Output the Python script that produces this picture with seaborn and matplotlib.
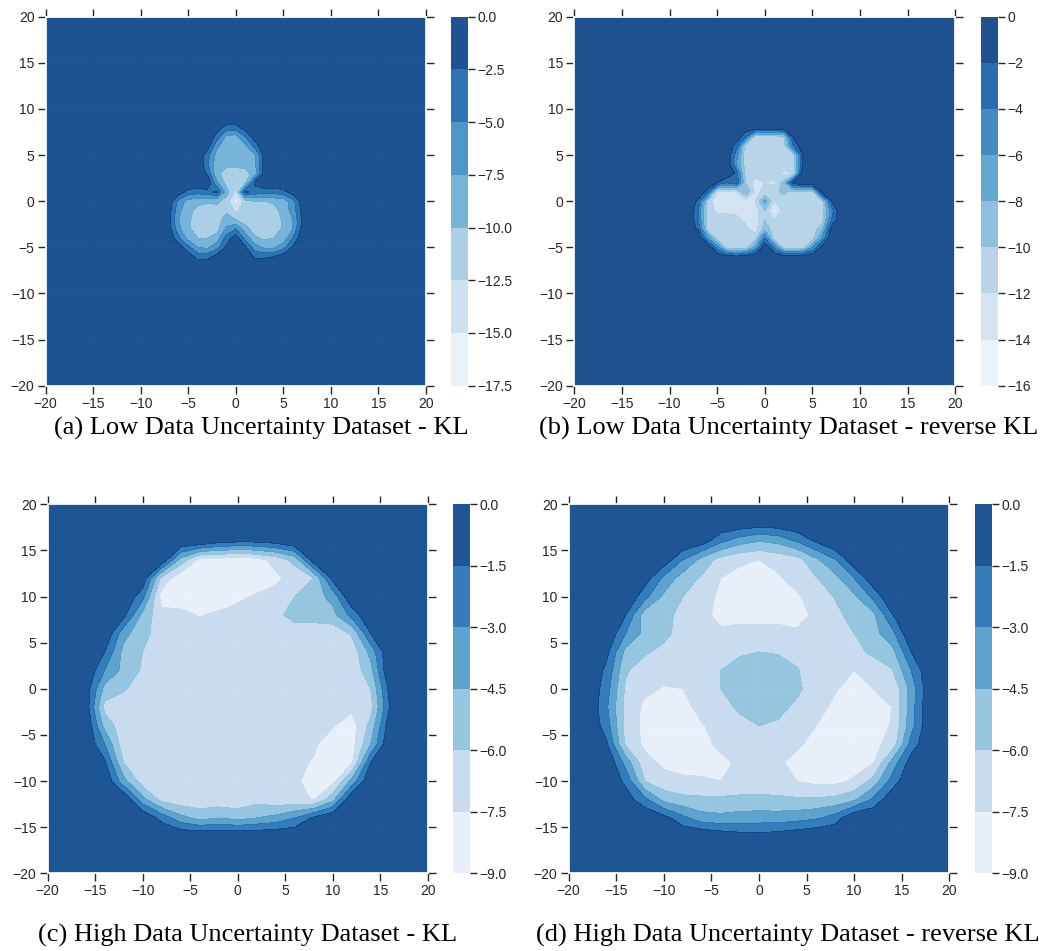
import numpy as np
import matplotlib
matplotlib.use("Agg")
import matplotlib.pyplot as plt
import seaborn as sns

# ---------------- data ----------------
LEVELS_A = [-17.5, -15.0, -12.5, -10.0, -7.5, -5.0, -2.5, 0.0]
LEVELS_B = [-16, -14, -12, -10, -8, -6, -4, -2, 0]
LEVELS_C = [-9.0, -7.5, -6.0, -4.5, -3.0, -1.5, 0.0]
LEVELS_D = [-9.0, -7.5, -6.0, -4.5, -3.0, -1.5, 0.0]

TICKS = [-20, -15, -10, -5, 0, 5, 10, 15, 20]
BACKGROUND = 0.0

CAPTIONS = ["(a) Low Data Uncertainty Dataset - KL",
            "(b) Low Data Uncertainty Dataset - reverse KL",
            "(c) High Data Uncertainty Dataset - KL",
            "(d) High Data Uncertainty Dataset - reverse KL"]

# (a) KL values on a 1-unit grid, x = -8..8, rows y = 10 .. -8
A_X = list(range(-8, 9))
A_Y = list(range(10, -9, -1))
A_Z = [
    [0]*17,
    [0]*17,
    [0, 0, 0, 0, 0, 0, -1, -3.5, -3.5, -1, 0, 0, 0, 0, 0, 0, 0],
    [0, 0, 0, 0, 0, 0, -3.5, -8, -8.5, -5, -1, 0, 0, 0, 0, 0, 0],
    [0, 0, 0, 0, 0, -1, -7, -9, -9, -8, -4, 0, 0, 0, 0, 0, 0],
    [0, 0, 0, 0, 0, -4, -8.5, -9, -9, -9, -8, -1.5, 0, 0, 0, 0, 0],
    [0, 0, 0, 0, 0, -4.5, -9, -9.5, -9.5, -9, -8, -1.5, 0, 0, 0, 0, 0],
    [0, 0, 0, 0, 0, -3, -9.5, -11, -11, -11, -9, -1, 0, 0, 0, 0, 0],
    [0, 0, 0, 0, 0, 0, -7, -11, -11.5, -10.5, -2, 0, 0, 0, 0, 0, 0],
    [0, 0, -1, -3.5, -4, -3.5, -2, -9, -13, -2, -3.5, -4, -4, -3.5, -1, 0, 0],
    [0, -1, -6, -8.5, -9, -9.5, -9.5, -11, -16, -11, -10, -10, -9.5, -9, -6, -1, 0],
    [0, -1.5, -7, -9, -11, -11.5, -11, -10.5, -13, -11.5, -11.5, -11.5, -11, -9, -6.5, -1.5, 0],
    [0, -2, -7.5, -9.5, -11.5, -11.5, -11, -9, -10, -11.5, -12, -12, -11.5, -9.5, -7.5, -2, 0],
    [0, -1.5, -7, -9.5, -11.5, -11.5, -11, -7, -5, -9, -11.5, -12, -11.5, -9.5, -7.5, -1.5, 0],
    [0, -0.5, -4.5, -8.5, -10, -10, -9, -4, -1, -6, -9.5, -10.5, -10, -9, -5, -0.5, 0],
    [0, 0, -1, -4.5, -7.5, -8, -6, -2, 0, -2, -6.5, -8, -8, -6, -2, 0, 0],
    [0, 0, 0, -1, -3.5, -3.5, -1.5, 0, 0, -0.5, -3, -3, -2.5, -1, 0, 0, 0],
    [0, 0, 0, 0, -0.5, -0.5, 0, 0, 0, 0, 0, 0, 0, 0, 0, 0, 0],
    [0]*17,
]

# (b) reverse KL values on a 1-unit grid, x = -8..8, rows y = 9 .. -7
B_X = list(range(-8, 9))
B_Y = list(range(9, -8, -1))
B_Z = [
    [0]*17,
    [0]*17,
    [0, 0, 0, 0, 0, 0, -4, -11, -11, -11, -10, -1.5, 0, 0, 0, 0, 0],
    [0, 0, 0, 0, 0, -3, -11, -11, -11, -11, -11, -4, 0, 0, 0, 0, 0],
    [0, 0, 0, 0, 0, -5, -11.5, -11, -11, -11, -11, -11, -2, 0, 0, 0, 0],
    [0, 0, 0, 0, 0, -6, -11, -11, -11, -11, -11, -11, -1.5, 0, 0, 0, 0],
    [0, 0, 0, 0, 0, -2.5, -11, -11, -11, -11, -12.5, -12, 0, 0, 0, 0, 0],
    [0, 0, 0, -2, -4, -2.5, -10, -13, -12, -12.5, -9, -1, 0, 0, 0, 0, 0],
    [0, 0, -3, -12.5, -12.5, -12.5, -8, -12.5, -11.5, -10.5, -9.5, -11, -11, -11, -1.5, 0, 0],
    [0, -2.5, -11, -13, -13, -13, -13, -12, -7, -12, -11, -11, -11, -11, -11, -2, 0],
    [0, -4, -11, -12.5, -12.5, -12.5, -12.5, -13, -10, -15, -11, -11, -11, -11, -11, -5, 0],
    [0, -4, -11, -11, -11, -11.5, -12.5, -13, -10, -12, -11, -11, -11, -11, -11, -4, 0],
    [0, -2.5, -11, -11, -11, -11, -11.5, -13, -9, -11, -11, -11, -11, -11, -9, -1, 0],
    [0, 0, -6, -11, -11, -11, -11, -11, -4, -11, -11, -11, -11, -11, -6, 0, 0],
    [0, 0, 0, -5, -11, -11, -11, -7, 0, -5, -11, -11, -11, -6, -1, 0, 0],
    [0, 0, 0, 0, -1, -1.5, -1, 0, 0, 0, -1, -1, -0.5, 0, 0, 0, 0],
    [0]*17,
]

# (c) KL values on a 2-unit grid, x = -20..20, rows y = 20 .. -20
C_X = list(range(-20, 21, 2))
C_Y = list(range(20, -21, -2))
C_Z = [
    [0]*21,
    [0]*21,
    [0, 0, 0, 0, 0, 0, 0, 0, 0, -1, -1.2, -1.2, -0.8, 0, 0, 0, 0, 0, 0, 0, 0],
    [0, 0, 0, 0, 0, 0, 0, -5, -8, -8, -8.5, -8, -7, -5.5, -0.5, 0, 0, 0, 0, 0, 0],
    [0, 0, 0, 0, 0, -0.3, -6.5, -8.5, -8.5, -8.5, -8.5, -8.5, -7.8, -7, -6, -1, 0, 0, 0, 0, 0],
    [0, 0, 0, 0, 0, -2.5, -8.2, -8.5, -8.5, -8.5, -7.8, -7.3, -7, -6, -5.2, -4, 0, 0, 0, 0, 0],
    [0, 0, 0, 0, -1, -5, -7, -7, -7.6, -7.2, -7, -7, -6.5, -5.3, -5.3, -5, -2.5, 0, 0, 0, 0],
    [0, 0, 0, 0, -4, -5.5, -6.8, -7, -7, -7, -7, -7, -7, -7, -7, -7, -5.8, -1.5, 0, 0, 0],
    [0, 0, 0, -1.5, -5, -6, -7, -7, -7, -7, -7, -7, -7, -7, -7, -7, -7, -4, 0, 0, 0],
    [0, 0, 0, -3, -5, -6.2, -7, -7, -7, -7, -7, -7, -7, -7, -7, -7, -7, -5, 0, 0, 0],
    [0, 0, -0.5, -5, -5.8, -7, -7, -7, -7, -7, -7, -7, -7, -7, -7, -7, -7, -6, -1, 0, 0],
    [0, 0, -0.5, -6.5, -7, -7, -7, -7, -7, -7, -7, -7, -7, -7, -7, -7, -7.2, -6.5, -1.5, 0, 0],
    [0, 0, 0, -5, -7, -7, -7, -7, -7, -7, -7, -7, -7, -7, -7, -7.4, -8.2, -5.5, -0.5, 0, 0],
    [0, 0, 0, -3, -7, -7, -7, -7, -7, -7, -7, -7, -7, -7, -7.3, -8.2, -8.2, -4.5, 0, 0, 0],
    [0, 0, 0, -1.2, -6, -7, -7, -7, -7, -7, -7, -7, -7, -7.2, -7.6, -8.3, -7.8, -1.5, 0, 0, 0],
    [0, 0, 0, 0, -4, -6.8, -7, -7, -7, -7, -7, -7, -7, -7.2, -8.2, -8, -4, 0, 0, 0, 0],
    [0, 0, 0, 0, 0, -4, -6.5, -7, -7, -7, -7, -6.5, -7, -7, -7.6, -5, 0, 0, 0, 0, 0],
    [0, 0, 0, 0, 0, 0, -2, -4, -5, -4.5, -5, -4.5, -4, -3, -1.2, 0, 0, 0, 0, 0, 0],
    [0]*21,
    [0]*21,
    [0]*21,
]

# (d) reverse KL values on a 2-unit grid, x = -20..20, rows y = 20 .. -20
D_X = list(range(-20, 21, 2))
D_Y = list(range(20, -21, -2))
D_Z = [
    [0]*21,
    [0, 0, 0, 0, 0, 0, 0, 0, 0, -0.2, -0.55, -0.4, 0, 0, 0, 0, 0, 0, 0, 0, 0],
    [0, 0, 0, 0, 0, 0, 0, -0.7, -2.7, -3.9, -4.5, -4.1, -2.9, -1.3, 0, 0, 0, 0, 0, 0, 0],
    [0, 0, 0, 0, 0, -0.4, -3, -5, -6.6, -7.2, -7.5, -7, -6.6, -4.8, -3.1, -0.4, 0, 0, 0, 0, 0],
    [0, 0, 0, 0, -0.65, -3.4, -5.2, -6.2, -7.5, -8, -8.2, -7.7, -6.9, -6.1, -5, -3, -0.4, 0, 0, 0, 0],
    [0, 0, 0, 0, -2.5, -4.8, -6, -6.9, -7.8, -8.3, -8.3, -8.3, -7.7, -6.8, -5.9, -4.8, -2.6, 0, 0, 0, 0],
    [0, 0, 0, -1.5, -5.3, -5.5, -6.5, -7, -8, -8, -8, -8, -8, -7.2, -6.5, -5.3, -4.9, -1.6, 0, 0, 0],
    [0, 0, 0, -3, -5, -5.6, -6.6, -6.9, -7.2, -7, -7, -7, -7.3, -7.4, -6.8, -6, -5, -3.5, 0, 0, 0],
    [0, 0, -1.1, -5, -5.8, -6.4, -6.8, -6.9, -6.7, -6.2, -6, -6.1, -6.5, -6.9, -6.9, -6.6, -5.6, -5, -1.5, 0, 0],
    [0, 0, -1.9, -5.8, -6.8, -7, -7, -6.8, -6, -5.4, -5.2, -5.4, -5.9, -6.8, -7.2, -7.5, -7.1, -6.1, -3, 0, 0],
    [0, 0, -2.4, -6.3, -7.2, -7.6, -7.5, -6.8, -6, -5.3, -5.2, -5.3, -5.7, -6.8, -7.4, -7.9, -7.5, -7.3, -3.9, -0.2, 0],
    [0, 0, -2.8, -6.5, -7.8, -8, -8, -7, -6.6, -5.7, -5.3, -5.6, -6.3, -7, -7.8, -8.1, -8, -7.5, -3.7, 0, 0],
    [0, 0, -2.3, -6.6, -7.9, -8.1, -8, -7.6, -7, -6.5, -6, -6.2, -7, -7.5, -8, -8.1, -8, -7.4, -3.6, 0, 0],
    [0, 0, -1.3, -6.3, -7.8, -8.1, -8.1, -7.9, -7.2, -6.9, -6.8, -7, -7.3, -7.9, -8.1, -8.1, -7.9, -7, -2.4, 0, 0],
    [0, 0, 0, -3.6, -7, -7.8, -8.1, -8.1, -7.8, -7.3, -7, -7.3, -7.9, -8.1, -8.1, -8.1, -7.6, -4, -0.7, 0, 0],
    [0, 0, 0, -1.9, -6, -7, -7.2, -7.3, -7.5, -7.2, -7, -7.1, -7.5, -7.9, -7.9, -7.3, -5.5, -2.4, 0, 0, 0],
    [0, 0, 0, -0.7, -2.6, -5, -5.6, -5.7, -5.7, -5.6, -5.6, -5.7, -5.8, -5.8, -5.6, -4.8, -2.7, -0.3, 0, 0, 0],
    [0, 0, 0, 0, 0, -0.9, -2.6, -3.9, -4.1, -3.9, -3.8, -3.8, -3.6, -3.2, -2.3, 0, 0, 0, 0, 0, 0],
    [0, 0, 0, 0, 0, 0, 0, 0, -0.4, -0.8, -0.9, -0.7, -0.3, 0, 0, 0, 0, 0, 0, 0, 0],
    [0]*21,
    [0]*21,
]


def full_grid(xs, ys, z, step):
    gx = np.arange(-20, 20 + step, step)
    gy = np.arange(-20, 20 + step, step)
    Z = np.full((len(gy), len(gx)), BACKGROUND, dtype=float)
    xi = [int(round((x + 20) / step)) for x in xs]
    yi = [int(round((y + 20) / step)) for y in ys]
    Z[np.ix_(yi, xi)] = np.array(z, dtype=float)
    return gx, gy, Z


# ---------------- style ----------------
sns.set_theme(style="darkgrid")
plt.rcParams['font.family'] = ['Liberation Sans', 'DejaVu Sans']
cmap = sns.color_palette("Blues", as_cmap=True)

W, H = 1043, 951
fig = plt.figure(figsize=(W / 100, H / 100), dpi=100)
fig.patch.set_facecolor('white')


def px_box(l, t, r, b):
    return [l / W, 1 - b / H, (r - l) / W, (b - t) / H]


panels = [
    (A_X, A_Y, A_Z, 1, LEVELS_A, (45.7, 16.7, 426.0, 385.7), (451, 468)),
    (B_X, B_Y, B_Z, 1, LEVELS_B, (574.3, 16.7, 955.3, 385.7), (981, 998)),
    (C_X, C_Y, C_Z, 2, LEVELS_C, (47.7, 504.3, 427.7, 873.3), (453, 470)),
    (D_X, D_Y, D_Z, 2, LEVELS_D, (568.7, 504.3, 949.3, 873.3), (975, 992)),
]

for xs, ys, z, step, levels, (l, t, r, b), (cl, cr) in panels:
    ax = fig.add_axes(px_box(l, t, r, b))
    ax.set_axisbelow(True)
    gx, gy, Z = full_grid(xs, ys, z, step)
    cs = ax.contourf(gx, gy, Z, levels=levels, cmap=cmap, alpha=0.9)
    ax.set_xlim(-20, 20)
    ax.set_ylim(-20, 20)
    ax.set_xticks(TICKS)
    ax.set_yticks(TICKS)
    ax.grid(True, color='white', linewidth=1)
    ax.tick_params(axis='both', which='major', direction='out', length=6,
                   width=1, color='.15', labelsize=10, labelcolor='.15',
                   top=True, right=True, bottom=True, left=True,
                   labeltop=False, labelright=False, pad=2)
    cax = fig.add_axes(px_box(cl, t, cr, b))
    cb = fig.colorbar(cs, cax=cax, ticks=levels)
    cb.outline.set_visible(False)
    cax.grid(False)
    cax.tick_params(axis='y', direction='out', length=5, width=1, color='.15',
                    labelsize=10, labelcolor='.15', right=True, left=False,
                    pad=2)

cap_pos = [(261, 428), (789, 428), (248, 935), (788, 935)]
for (cx, cy), txt in zip(cap_pos, CAPTIONS):
    fig.text(cx / W, 1 - cy / H, txt, ha='center', va='center', fontsize=19,
             family=['Liberation Serif', 'DejaVu Serif'], color='black')

fig.savefig("out.png", dpi=100, facecolor='white')
